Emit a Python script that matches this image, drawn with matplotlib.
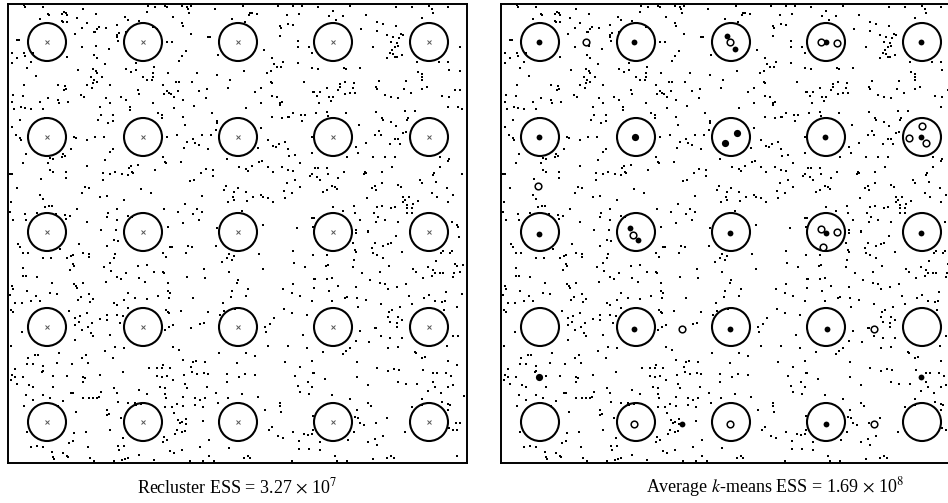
import numpy as np
import matplotlib.pyplot as plt

# grid of true cluster centres (same coordinates in both panels)
centre_x = [47, 143, 238, 333, 429]
centre_y = [42, 137, 232, 327, 422]
radius = 19

# background noise points, shared by both panels
noise = [
    (24, 5), (25, 7), (43, 7), (48, 14), (49, 15), (62, 14), (64, 12), (66, 13), (67, 15), (40, 19),
    (62, 21), (63, 22), (67, 22), (77, 18), (83, 9), (96, 14), (87, 23), (99, 27), (97, 29), (95, 32),
    (94, 32), (82, 28), (106, 28), (75, 34), (117, 25), (117, 35), (119, 33), (117, 37), (118, 41), (125, 17),
    (128, 20), (126, 32), (139, 21), (147, 12), (148, 6), (155, 7), (153, 27), (157, 29), (17, 40), (19, 40),
    (12, 53), (17, 58), (12, 63), (24, 53), (25, 56), (33, 53), (31, 62), (27, 68), (67, 57), (82, 47),
    (96, 46), (94, 55), (97, 58), (109, 49), (105, 64), (78, 70), (93, 69), (96, 71), (97, 73), (91, 77),
    (94, 80), (97, 82), (93, 83), (87, 85), (92, 88), (102, 77), (110, 85), (36, 76), (58, 85), (65, 86),
    (66, 89), (64, 90), (24, 85), (13, 95), (23, 96), (12, 102), (14, 109), (21, 107), (25, 108), (31, 109),
    (40, 102), (43, 109), (48, 98), (58, 100), (59, 103), (68, 102), (81, 95), (84, 97), (106, 98), (100, 107),
    (98, 120), (101, 115), (110, 103), (113, 115), (113, 121), (108, 123), (121, 97), (126, 100), (130, 107), (130, 110),
    (138, 90), (139, 94), (147, 80), (152, 80), (153, 77), (154, 67), (153, 73), (126, 69), (131, 72), (136, 70),
    (136, 63), (143, 77), (153, 103), (158, 113), (12, 127), (16, 135), (20, 138), (21, 140), (20, 120), (45, 118),
    (74, 137), (76, 138), (87, 140), (95, 137), (104, 137), (71, 149), (63, 154), (65, 156), (62, 157), (50, 158),
    (53, 159), (48, 163), (50, 170), (53, 172), (26, 154), (23, 163), (10, 174), (12, 174), (41, 179), (66, 172),
    (66, 178), (87, 166), (110, 152), (113, 149), (105, 160), (103, 173), (103, 180), (110, 174), (115, 172), (122, 174),
    (129, 168), (131, 166), (132, 172), (133, 173), (138, 165), (128, 175), (155, 170), (17, 188), (40, 195), (43, 199),
    (11, 202), (10, 212), (13, 220), (25, 214), (26, 220), (37, 213), (45, 207), (49, 206), (52, 206), (56, 214),
    (65, 215), (66, 219), (70, 216), (77, 209), (82, 193), (85, 187), (89, 188), (87, 222), (100, 197), (107, 196),
    (108, 213), (107, 217), (117, 220), (117, 209), (124, 200), (128, 216), (132, 217), (141, 189), (151, 193), (101, 230),
    (116, 230),
    (165, 6), (167, 7), (182, 6), (187, 7), (188, 9), (191, 6), (189, 13), (173, 17), (182, 23), (183, 26),
    (191, 34), (167, 42), (172, 42), (186, 51), (182, 56), (179, 61), (215, 9), (208, 37), (210, 37), (232, 19),
    (245, 22), (249, 15), (252, 13), (257, 14), (250, 13), (243, 6), (278, 6), (293, 6), (302, 6), (287, 15),
    (299, 14), (280, 26), (281, 28), (288, 24), (293, 25), (280, 36), (298, 41), (298, 47), (309, 47), (312, 53),
    (264, 50), (218, 55), (272, 58), (274, 64), (271, 71), (267, 73), (277, 67), (281, 67), (283, 62), (298, 63),
    (312, 68), (244, 71), (168, 73), (176, 82), (179, 82), (192, 82), (197, 73), (163, 85), (167, 91), (169, 93),
    (171, 94), (174, 97), (178, 91), (164, 94), (183, 100), (199, 91), (207, 89), (206, 98), (217, 75), (230, 80),
    (228, 88), (255, 92), (261, 88), (271, 82), (272, 83), (272, 96), (277, 97), (280, 103), (282, 102), (280, 105),
    (261, 103), (246, 108), (304, 82), (313, 92), (194, 106), (174, 108), (162, 115), (162, 118), (183, 117), (185, 125),
    (212, 113), (217, 121), (217, 123), (216, 130), (211, 135), (202, 135), (193, 139), (195, 143), (199, 145), (187, 142),
    (184, 148), (177, 135), (167, 137), (163, 157), (165, 162), (166, 163), (181, 162), (208, 149), (227, 159), (261, 128),
    (272, 117), (282, 118), (288, 117), (289, 117), (293, 113), (301, 115), (305, 115), (302, 121), (268, 140), (273, 146),
    (276, 147), (279, 144), (285, 142), (288, 149), (289, 156), (295, 155), (258, 148), (259, 162), (262, 161), (239, 167),
    (246, 169), (248, 171), (252, 166), (268, 167), (273, 172), (282, 167), (288, 170), (293, 171), (300, 163), (310, 176),
    (312, 153), (201, 173), (206, 169), (213, 170), (213, 176), (190, 181), (194, 180), (226, 186), (224, 190), (234, 192),
    (233, 197), (238, 188), (234, 200), (228, 202), (246, 192), (247, 201), (253, 197), (261, 195), (263, 197), (268, 198),
    (273, 202), (284, 191), (287, 183), (292, 193), (285, 198), (300, 187), (295, 180), (202, 196), (185, 204), (164, 209),
    (178, 212), (193, 214), (197, 209), (202, 212), (199, 220), (183, 223), (168, 227), (242, 211), (217, 228), (263, 225),
    (297, 228), (312, 218), (313, 227),
    (318, 7), (333, 11), (329, 16), (336, 20), (343, 16), (350, 6), (366, 15), (361, 29), (377, 22), (383, 24),
    (377, 31), (387, 35), (396, 26), (393, 37), (391, 42), (397, 43), (398, 46), (395, 47), (401, 34), (403, 35),
    (399, 38), (392, 50), (390, 53), (393, 54), (402, 55), (395, 57), (397, 57), (387, 58), (373, 47), (412, 7),
    (396, 7), (422, 18), (432, 9), (433, 13), (429, 6), (448, 7), (417, 62), (439, 62), (448, 62), (460, 47),
    (318, 69), (344, 68), (346, 69), (360, 68), (314, 92), (317, 96), (320, 92), (319, 103), (327, 88), (329, 97),
    (331, 101), (333, 97), (338, 90), (340, 87), (345, 82), (345, 94), (350, 93), (354, 83), (353, 88), (355, 93),
    (340, 84), (379, 81), (376, 87), (377, 89), (385, 95), (391, 97), (398, 98), (406, 81), (404, 89), (411, 93),
    (418, 72), (422, 74), (422, 77), (422, 80), (427, 87), (422, 89), (442, 96), (449, 97), (455, 90), (460, 90),
    (449, 70), (460, 71), (448, 107), (458, 107), (462, 109), (316, 113), (327, 112), (328, 116), (346, 113), (376, 112),
    (382, 118), (383, 120), (391, 122), (396, 126), (405, 111), (415, 111), (408, 118), (407, 120), (403, 133), (406, 132),
    (398, 139), (400, 144), (390, 144), (395, 139), (379, 131), (381, 135), (375, 135), (359, 125), (366, 143), (356, 147),
    (358, 153), (373, 157), (385, 157), (395, 157), (312, 137), (347, 157), (440, 157), (448, 161), (312, 174), (315, 168),
    (318, 168), (320, 180), (327, 168), (328, 174), (317, 177), (338, 178), (344, 172), (323, 192), (327, 190), (332, 186),
    (335, 187), (337, 189), (365, 172), (364, 174), (366, 173), (382, 172), (392, 167), (372, 188), (376, 190), (375, 186),
    (382, 183), (367, 198), (398, 185), (401, 187), (403, 197), (403, 202), (405, 200), (409, 197), (407, 205), (412, 208),
    (418, 201), (413, 204), (420, 180), (422, 183), (434, 173), (433, 175), (436, 182), (440, 167), (447, 188), (449, 159),
    (432, 193), (437, 197), (448, 202), (453, 195), (462, 174), (343, 211), (354, 206), (355, 213), (360, 220), (356, 230),
    (368, 231), (374, 213), (377, 207), (382, 206), (376, 222), (378, 217), (385, 220), (391, 208), (395, 207), (398, 222),
    (407, 208), (407, 213), (412, 213), (452, 222), (458, 227), (457, 225), (314, 218), (333, 207),
    (18, 244), (20, 247), (23, 253), (28, 253), (43, 258), (51, 258), (60, 249), (79, 244), (67, 258), (71, 256),
    (73, 255), (83, 253), (89, 254), (89, 257), (73, 264), (74, 266), (70, 270), (107, 246), (114, 240), (118, 241),
    (115, 254), (114, 258), (110, 263), (104, 267), (23, 268), (23, 276), (26, 276), (37, 277), (52, 283), (50, 293),
    (57, 294), (12, 286), (13, 289), (10, 295), (15, 303), (22, 303), (27, 291), (31, 301), (36, 296), (40, 301),
    (11, 310), (13, 312), (74, 284), (76, 286), (77, 288), (83, 283), (89, 294), (93, 299), (90, 302), (81, 297),
    (78, 300), (111, 271), (117, 277), (121, 279), (126, 273), (138, 266), (147, 265), (154, 272), (106, 282), (128, 293),
    (135, 298), (139, 278), (145, 282), (147, 299), (158, 296), (114, 303), (117, 305), (124, 300), (128, 308), (69, 311),
    (87, 313), (75, 318), (75, 325), (79, 322), (82, 330), (88, 327), (92, 323), (91, 333), (93, 336), (80, 316),
    (100, 319), (107, 315), (107, 320), (117, 315), (123, 316), (120, 323), (110, 335), (75, 340), (22, 332), (11, 346),
    (115, 347), (124, 348), (105, 351), (59, 353), (86, 355), (82, 358), (38, 355), (35, 355), (28, 358), (27, 364),
    (33, 364), (43, 366), (43, 371), (42, 372), (57, 363), (72, 364), (88, 363), (113, 358), (15, 369), (12, 375),
    (11, 380), (15, 377), (17, 384), (23, 377), (29, 385), (33, 387), (53, 376), (67, 376), (83, 377), (85, 378),
    (83, 382), (100, 375), (53, 387), (123, 372), (149, 368), (157, 368), (157, 376), (114, 388), (117, 393), (26, 395),
    (33, 400), (43, 395), (50, 398), (24, 406), (63, 401), (58, 406), (71, 393), (73, 393), (83, 398), (89, 398),
    (93, 398), (97, 398), (99, 397), (101, 392), (118, 402), (139, 390), (147, 394), (135, 403), (136, 405), (141, 404),
    (128, 403), (107, 410), (107, 415), (109, 414), (76, 412), (121, 418), (110, 430), (27, 432), (74, 433), (73, 441),
    (86, 432), (123, 438), (118, 446), (119, 450), (124, 446), (69, 443), (63, 453), (67, 456), (68, 457), (52, 452),
    (53, 457), (54, 459), (31, 447), (37, 446), (43, 447), (90, 458), (94, 461), (88, 447), (114, 461), (122, 460),
    (125, 459), (128, 458), (139, 455), (154, 460),
    (170, 247), (172, 247), (188, 246), (192, 247), (163, 253), (166, 257), (186, 253), (216, 246), (229, 254), (234, 256),
    (227, 258), (222, 262), (232, 260), (259, 254), (263, 269), (204, 269), (205, 278), (187, 277), (163, 272), (164, 273),
    (168, 283), (168, 291), (170, 293), (169, 298), (193, 298), (229, 272), (238, 280), (237, 283), (232, 291), (231, 297),
    (248, 289), (246, 296), (223, 303), (166, 310), (168, 312), (169, 313), (181, 311), (208, 312), (220, 315), (224, 311),
    (235, 309), (200, 324), (204, 323), (191, 328), (173, 325), (169, 327), (165, 330), (293, 251), (294, 263), (305, 267),
    (313, 255), (283, 289), (293, 284), (292, 293), (300, 296), (312, 301), (314, 279), (314, 288), (284, 309), (292, 313),
    (307, 315), (274, 318), (270, 324), (265, 327), (266, 332), (303, 335), (268, 346), (288, 346), (307, 348), (173, 347),
    (179, 350), (219, 353), (246, 353), (255, 356), (183, 360), (193, 362), (196, 361), (205, 362), (191, 367), (192, 372),
    (197, 374), (204, 373), (208, 374), (163, 365), (162, 368), (170, 368), (162, 377), (167, 376), (173, 380), (184, 375),
    (185, 384), (187, 388), (160, 387), (165, 388), (165, 394), (166, 398), (237, 363), (227, 374), (239, 377), (245, 374),
    (255, 375), (227, 382), (207, 387), (216, 393), (183, 397), (195, 398), (200, 400), (205, 398), (195, 405), (203, 407),
    (218, 403), (228, 398), (242, 394), (258, 397), (165, 407), (172, 407), (177, 404), (183, 406), (174, 413), (178, 420),
    (180, 423), (182, 422), (186, 419), (186, 424), (203, 421), (177, 430), (182, 432), (185, 431), (175, 434), (164, 437),
    (167, 440), (163, 442), (209, 440), (200, 447), (170, 451), (174, 453), (182, 450), (209, 456), (190, 461), (203, 461),
    (214, 461), (229, 448), (244, 458), (248, 456), (250, 458), (265, 410), (269, 430), (272, 427), (278, 436), (283, 438),
    (280, 403), (280, 406), (281, 412), (293, 432), (299, 441), (304, 434), (308, 435), (313, 430), (299, 449), (309, 449),
    (292, 461), (295, 376), (298, 386), (300, 392), (308, 382), (309, 394), (312, 387), (313, 373), (312, 361), (300, 367),
    (285, 362),
    (356, 233), (368, 232), (396, 236), (391, 243), (388, 244), (383, 246), (375, 243), (372, 248), (373, 253), (377, 255),
    (383, 258), (380, 272), (389, 266), (402, 252), (353, 243), (355, 250), (356, 252), (354, 260), (313, 255), (327, 255),
    (326, 266), (328, 265), (353, 267), (362, 273), (370, 280), (315, 279), (327, 279), (332, 278), (329, 291), (338, 286),
    (314, 288), (332, 301), (347, 297), (345, 298), (357, 298), (356, 287), (358, 307), (366, 300), (380, 283), (385, 284),
    (388, 289), (397, 287), (406, 284), (381, 304), (389, 312), (392, 310), (388, 317), (390, 322), (397, 323), (400, 307),
    (398, 317), (402, 320), (397, 327), (412, 304), (409, 296), (375, 328), (381, 336), (390, 338), (398, 347), (402, 338),
    (388, 348), (413, 269), (416, 272), (423, 278), (428, 267), (436, 261), (433, 270), (435, 273), (432, 276), (440, 273),
    (443, 273), (455, 264), (457, 266), (454, 273), (460, 272), (453, 277), (463, 265), (450, 253), (452, 251), (441, 253),
    (443, 251), (459, 237), (424, 298), (429, 295), (435, 301), (442, 302), (445, 301), (446, 292), (457, 307), (462, 294),
    (444, 310), (453, 336), (458, 336), (447, 346), (415, 352), (416, 353), (422, 358), (425, 357), (356, 341), (360, 331),
    (369, 342), (376, 328), (350, 348), (346, 351), (343, 354), (323, 352), (314, 373), (325, 379), (357, 362), (357, 377),
    (368, 385), (377, 368), (388, 371), (394, 369), (399, 370), (398, 382), (406, 384), (417, 384), (423, 370), (433, 373),
    (437, 373), (446, 373), (451, 376), (448, 387), (433, 382), (435, 387), (428, 391), (453, 385), (448, 361), (457, 365),
    (464, 396), (332, 395), (350, 399), (368, 403), (371, 406), (357, 410), (355, 417), (358, 418), (360, 423), (364, 425),
    (376, 423), (387, 418), (422, 399), (422, 405), (412, 407), (442, 402), (448, 404), (450, 405), (448, 410), (441, 393),
    (313, 416), (312, 434), (320, 442), (320, 450), (348, 440), (354, 432), (368, 442), (375, 439), (377, 445), (383, 436),
    (373, 459), (387, 458), (391, 456), (394, 458), (335, 456), (337, 461), (347, 461), (405, 432), (449, 428), (456, 423),
    (453, 430), (457, 430), (460, 423), (457, 456),
]
noise_x = [p[0] for p in noise]
noise_y = [p[1] for p in noise]

# k-means centres found (right panel): filled markers
filled_x = [46, 141, 46, 142, 137, 145, 234, 242, 333, 428, 244, 232, 332, 428,
            428, 333, 46, 237, 141, 237, 334, 46, 428, 189, 333]
filled_y = [42, 42, 137, 137, 228, 240, 36, 49, 42, 42, 133, 143, 137, 137,
            233, 233, 234, 233, 329, 329, 329, 377, 377, 424, 424]
filled_big = [False, False, False, True, False, False, False, False, False, False, True, True, False, False,
              False, False, False, False, False, False, False, True, False, False, False]

# open markers
open_x = [93, 237, 328, 344, 429, 416, 433, 45, 140, 328, 344, 330, 189, 381, 141, 237, 381]
open_y = [42, 42, 42, 43, 126, 138, 143, 186, 235, 229, 232, 247, 329, 329, 424, 424, 424]

captions = [r'Recluster ESS = 3.27 $\times$ 10$^{7}$',
            r'Average $k$-means ESS = 1.69 $\times$ 10$^{8}$']

plt.rcParams['font.family'] = ['Liberation Serif', 'DejaVu Serif']
plt.rcParams['mathtext.fontset'] = 'stix'

W, H = 948, 503
fig = plt.figure(figsize=(W / 100, H / 100), dpi=100)

panel_w = 459
ax_l = fig.add_axes([8 / W, (H - 463) / H, panel_w / W, panel_w / H])
ax_r = fig.add_axes([501 / W, (H - 463) / H, panel_w / W, panel_w / H])

for ax in (ax_l, ax_r):
    ax.set_xlim(8, 467)
    ax.set_ylim(463, 4)
    ax.set_xticks([])
    ax.set_yticks([])
    for s in ax.spines.values():
        s.set_linewidth(1.4)
    ax.plot(noise_x, noise_y, 's', color='black', ms=1.5, mew=0)
    for cx in centre_x:
        for cy in centre_y:
            ax.add_patch(plt.Circle((cx, cy), radius, fill=False, lw=1.5, color='black'))

# left panel: true centres marked with small x
gx, gy = np.meshgrid(centre_x, centre_y)
ax_l.plot(gx.ravel(), gy.ravel(), 'x', color='#555555', ms=3.2, mew=0.7)

# right panel: averaged k-means centres
fx = np.array(filled_x)
fy = np.array(filled_y)
big = np.array(filled_big)
ax_r.plot(fx[~big], fy[~big], 'o', color='black', ms=4.2, mew=0)
ax_r.plot(fx[big], fy[big], 'o', color='black', ms=5.2, mew=0)
ax_r.plot(open_x, open_y, 'o', mfc='white', mec='black', ms=4.8, mew=1.1)

fig.text(237 / W, 1 - 487 / H, captions[0], ha='center', va='center', fontsize=13)
fig.text(775 / W, 1 - 487 / H, captions[1], ha='center', va='center', fontsize=13)

fig.savefig('out.png', dpi=100)
